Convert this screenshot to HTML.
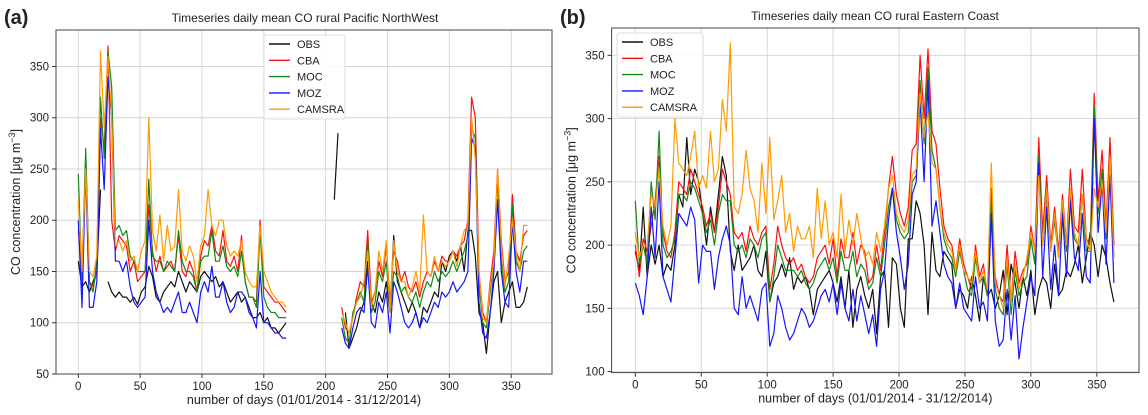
<!DOCTYPE html>
<html><head><meta charset="utf-8"><style>
body{margin:0;background:#fff;width:1148px;height:410px;overflow:hidden;font-family:"Liberation Sans",sans-serif}
svg text{font-family:"Liberation Sans",sans-serif;fill:#222}
</style></head><body>
<svg id="chart" width="1148" height="410" xmlns="http://www.w3.org/2000/svg">
<text x="4" y="24" font-size="20" font-weight="bold">(a)</text>
<text x="560" y="24" font-size="20" font-weight="bold">(b)</text>
</svg>
<script>
const step = 3;
const seriesNames = ["OBS","CBA","MOC","MOZ","CAMSRA"];
const seriesColors = ["#111","#ff1010","#138a13","#1515ff","#ff9a00"];
const N = null;
const xTicks = [0,50,100,150,200,250,300,350];
const yTicksA = [50,100,150,200,250,300,350];
const yTicksB = [100,150,200,250,300,350];

const obsA = [160,135,140,130,140,150,230,N,140,130, 125,130,125,125,120,125,118,130,135,155, 145,125,120,130,135,140,135,150,140,130, 140,135,130,145,150,145,140,145,135,140, 130,120,125,130,120,125,115,105,105,110, 100,105,95,95,90,95,100,N,N,N, N,N,N,N,N,N,N,N,N,220, 285,N,110,75,85,95,110,120,160,120, 110,130,120,140,110,185,140,130,120,110, 120,110,95,115,110,120,130,125,160,150, 165,170,160,175,150,190,190,165,110,100, 70,110,140,150,100,120,130,140,115,115, 120,135];
const cbaA = [190,150,260,140,135,150,300,270,370,200, 170,185,180,175,150,160,140,145,150,215, 170,150,165,150,155,160,150,185,150,145, 160,150,130,165,180,175,195,170,165,190, 160,155,165,150,185,140,125,125,120,200, 135,130,125,120,120,115,110,N,N,N, N,N,N,N,N,N,N,N,N,90, N,115,95,90,105,125,140,135,190,120, 130,160,145,175,120,170,160,140,150,135, 130,140,125,140,150,145,160,150,165,160, 160,170,165,175,180,200,320,300,150,110, 100,140,170,250,180,140,150,225,170,160, 185,190];
const mocA = [245,140,270,140,130,160,320,260,365,330, 190,195,185,190,165,160,150,150,150,240, 165,160,160,150,160,155,150,190,160,150, 150,145,130,160,165,165,190,160,160,175, 155,150,155,145,170,140,125,125,115,190, 125,115,110,110,105,105,105,N,N,N, N,N,N,N,N,N,N,N,N,80, N,105,85,80,110,120,130,120,180,110, 120,150,140,160,110,150,145,130,135,125, 120,130,115,130,140,135,150,140,150,145, 150,160,150,160,170,185,290,280,140,100, 95,130,160,240,160,130,140,215,160,150, 170,175];
const mozA = [200,115,250,115,115,140,290,230,340,300, 160,160,150,160,135,120,115,120,125,200, 150,130,120,110,115,110,120,130,110,110, 120,110,100,130,140,130,155,125,125,140, 120,110,115,130,130,125,110,105,95,150, 100,100,95,90,90,85,85,N,N,N, N,N,N,N,N,N,N,N,N,75, N,95,80,75,95,110,115,110,155,100, 95,120,110,130,90,140,130,115,100,95, 100,110,95,105,100,110,120,115,130,125, 130,140,130,135,140,150,280,270,120,90, 85,110,150,220,150,120,115,200,150,130, 160,160];
const camsA = [220,150,250,150,145,165,365,290,360,300, 175,180,170,180,160,165,150,170,180,300, 190,170,205,160,195,170,175,230,170,160, 175,165,140,175,185,230,195,185,200,200, 175,165,170,165,180,150,140,135,135,195, 150,140,130,125,120,120,115,N,N,N, N,N,N,N,N,N,N,N,N,85, N,110,100,90,105,120,125,140,170,115, 130,170,150,180,110,180,150,140,140,125, 135,150,130,205,150,145,165,150,160,155, 160,170,155,175,190,195,300,260,150,105, 100,135,160,250,175,135,165,200,170,150, 195,195];

const obsB = [195,180,230,175,200,185,200,175,185,180, 200,240,230,285,240,260,250,225,200,230, 210,240,270,255,195,180,200,180,185,190, 200,180,175,195,155,170,175,185,175,190, 165,175,170,175,165,145,165,170,175,180, 170,155,175,150,180,135,165,175,160,150, 165,130,175,180,135,190,185,150,135,205, 205,235,225,200,145,210,180,175,195,190, 185,150,165,160,150,175,160,140,175,160, 165,150,160,180,145,185,170,150,175,160, 180,145,165,175,170,150,185,160,165,180, 175,185,200,170,190,210,200,175,200,190, 170,155];
const cbaB = [200,175,205,195,215,235,270,210,195,190, 210,250,245,240,260,250,240,230,215,225, 210,230,260,250,240,210,205,210,195,215, 205,200,210,215,165,185,215,200,190,185, 190,180,185,175,170,175,190,195,200,185, 205,175,205,190,190,210,185,200,195,170, 175,200,180,210,245,270,240,225,215,230, 275,280,350,300,355,290,280,245,215,205, 200,180,205,185,175,165,200,175,185,160, 245,175,160,155,200,155,195,170,180,185, 215,195,285,210,255,200,230,195,240,200, 260,215,210,260,205,200,320,235,275,215, 285,200];
const mocB = [235,185,200,185,250,220,290,200,190,195, 205,240,240,235,250,245,235,225,210,220, 200,225,240,235,235,200,195,200,190,205, 200,190,205,210,155,175,200,190,180,180, 180,175,180,170,165,170,180,185,190,180, 190,170,195,180,180,195,175,185,180,165, 170,190,175,200,230,245,220,210,205,210, 250,255,330,280,340,275,260,230,205,195, 190,175,195,180,165,160,190,170,175,160, 235,165,150,145,185,145,180,160,170,175, 205,185,270,200,240,195,220,190,230,195, 240,205,200,240,195,195,310,225,260,205, 270,190];
const mozB = [170,160,145,175,230,190,250,175,165,155, 190,225,220,215,230,220,170,200,195,195, 165,190,205,215,200,150,145,175,150,160, 150,140,165,170,120,130,160,150,135,125, 130,140,150,145,135,140,150,160,165,155, 170,145,170,150,140,165,140,160,145,130, 145,120,165,180,220,245,210,190,165,185, 240,250,315,250,330,215,235,210,185,175, 170,150,170,150,145,140,175,150,155,140, 225,140,120,125,165,125,160,110,135,155, 175,160,265,175,230,165,200,160,225,175, 235,190,180,225,175,170,300,210,250,185, 255,170];
const camsB = [210,190,200,200,240,230,260,215,200,215, 300,265,260,255,270,290,245,255,245,290, 250,260,315,290,360,230,225,240,275,245, 235,210,265,225,285,220,235,255,210,225, 195,215,205,205,215,190,245,205,235,200, 210,190,240,195,220,200,225,205,190,195, 185,210,195,215,245,255,225,215,210,220, 255,260,320,285,305,265,260,230,210,200, 195,180,200,180,175,170,195,170,180,165, 265,170,160,150,190,155,185,165,175,190, 210,195,255,200,245,195,225,190,235,200, 245,210,200,240,205,195,245,230,250,210, 270,190];

const NS = "http://www.w3.org/2000/svg";
const svg = document.getElementById("chart");
function mk(tag, attrs, parent){const e=document.createElementNS(NS,tag);for(const k in attrs)e.setAttribute(k,attrs[k]);(parent||svg).appendChild(e);return e;}

function panel(cfg){
  const {id,L,R,T,B,xmin,xmax,ymin,ymax,yTicks,title,titleX,series,legend} = cfg;
  const g = mk("g",{});
  
  
  const sx = d => L + (d - xmin) / (xmax - xmin) * (R - L);
  const sy = v => B - (v - ymin) / (ymax - ymin) * (B - T);
  xTicks.forEach(t=>{
    const x=sx(t);
    const gl=mk("line",{x1:x,x2:x,y1:T,y2:B,stroke:"#d4d4d4","stroke-width":0.9},g);
    
    
    mk("line",{x1:x,x2:x,y1:B,y2:B+4,stroke:"#333"},g);
    const tx=mk("text",{x:x,y:B+16,"font-size":11.5,"text-anchor":"middle"},g);tx.textContent=t;
    
    
  });
  yTicks.forEach(t=>{
    const y=sy(t);
    const gl=mk("line",{x1:L,x2:R,y1:y,y2:y,stroke:"#d4d4d4","stroke-width":0.9},g);
    
    
    mk("line",{x1:L-4,x2:L,y1:y,y2:y,stroke:"#333"},g);
    const tx=mk("text",{x:L-7,y:y+4,"font-size":11.5,"text-anchor":"end"},g);tx.textContent=t;
    
    
  });
  series.forEach((vals,si)=>{
    let d="",pen=false;
    vals.forEach((v,i)=>{
      if(v===null){pen=false;return;}
      d+=(pen?"L":"M")+sx(i*step).toFixed(1)+","+sy(v).toFixed(1);pen=true;
    });
    const p=mk("path",{d:d,fill:"none",stroke:seriesColors[si],"stroke-width":1.2,"stroke-linejoin":"round"},g);
    
    
  });
  const fr=mk("rect",{x:L,y:T,width:R-L,height:B-T,fill:"none",stroke:"#444","stroke-width":1},g);
  
  
  const ti=mk("text",{x:titleX,y:T-8,"font-size":12,"text-anchor":"middle"},g);ti.textContent=title;
  
  
  const xl=mk("text",{x:(L+R)/2,y:B+30,"font-size":12.5,"text-anchor":"middle"},g);xl.textContent="number of days (01/01/2014 - 31/12/2014)";
  
  
  const yx=L-36, yy=(T+B)/2;
  const yl=mk("text",{x:yx,y:yy,"font-size":12.5,"text-anchor":"middle",transform:`rotate(-90 ${yx} ${yy})`},g);
  yl.innerHTML='CO concentration [μg m<tspan dy="-5" font-size="9">−3</tspan><tspan dy="5">]</tspan>';
  
  
  const lg=mk("g",{},g);
  
  
  mk("rect",{x:legend.x,y:legend.y,width:legend.w,height:84,fill:"#fff","fill-opacity":0.85,stroke:"#ddd",rx:2},lg);
  seriesNames.forEach((n,i)=>{
    const y=legend.y+9+i*16.3;
    mk("line",{x1:legend.x+5,x2:legend.x+26,y1:y,y2:y,stroke:seriesColors[i],"stroke-width":1.4},lg);
    const t=mk("text",{x:legend.x+33,y:y+4,"font-size":11},lg);t.textContent=n;
    
    
  });
}
panel({id:"panel-a",L:56,R:552,T:30,B:374,xmin:-18,xmax:383,ymin:50,ymax:385.6,yTicks:yTicksA,
  title:"Timeseries daily mean CO rural Pacific NorthWest",titleX:305,
  series:[obsA,cbaA,mocA,mozA,camsA],legend:{x:264,y:35,w:81}});
panel({id:"panel-b",L:611.6,R:1139,T:28,B:372.6,xmin:-18,xmax:382,ymin:99.2,ymax:371.6,yTicks:yTicksB,
  title:"Timeseries daily mean CO rural Eastern Coast",titleX:875,
  series:[obsB,cbaB,mocB,mozB,camsB],legend:{x:617,y:33,w:86}});
</script>
</body></html>
